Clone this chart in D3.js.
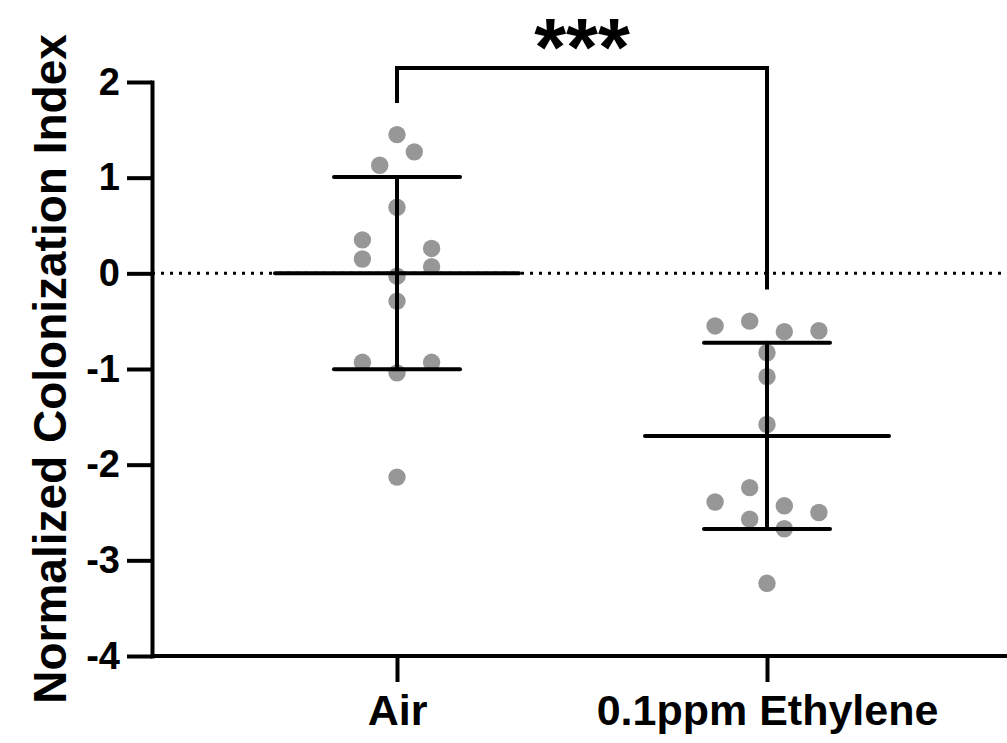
<!DOCTYPE html>
<html>
<head>
<meta charset="utf-8">
<script src="https://cdn.jsdelivr.net/npm/d3@7"></script>
<style>
  html, body { margin: 0; padding: 0; background: #fff; }
  svg { display: block; }
  text { font-family: "Liberation Sans", Arial, sans-serif; font-weight: bold; fill: #000; }
</style>
</head>
<body>
<svg id="chart" width="1007" height="743"></svg>
<script>
// ---- data ----
const categories = ["Air", "0.1ppm Ethylene"];
const airValues = [1.45, 1.27, 1.13, 0.69, 0.35, 0.15, 0.26, 0.07, -0.03, -0.29, -0.93, -0.93, -1.04, -2.13];
const airSlots  = [0, 1, -1, 0, -2, -2, 2, 2, 0, 0, -2, 2, 0, 0];
const ethValues = [-0.55, -0.50, -0.61, -0.60, -0.83, -1.08, -1.58, -2.39, -2.24, -2.43, -2.50, -2.57, -2.67, -3.24];
const ethSlots  = [-3, -1, 1, 3, 0, 0, 0, -3, -1, 1, 3, -1, 1, 0];
const yTicks = [-4, -3, -2, -1, 0, 1, 2];
const yLabel = "Normalized Colonization Index";
const significance = "***";

const groups = [
  { name: categories[0], values: airValues, slots: airSlots },
  { name: categories[1], values: ethValues, slots: ethSlots }
];

// ---- layout ----
const W = 1007, H = 743;
const axisX = 152, axisY = 656, topY = 82;
const svg = d3.select("#chart");

const y = d3.scaleLinear().domain([-4, 2]).range([axisY, topY]);
const x = d3.scalePoint().domain(categories).range([397, 767]);
const jitter = d3.scaleLinear().domain([-1, 1]).range([-17.3, 17.3]);
const r = 8.7;
const lw = 4;

// dotted zero line
svg.append("line")
  .attr("x1", axisX).attr("x2", W)
  .attr("y1", y(0)).attr("y2", y(0))
  .attr("stroke", "#000").attr("stroke-width", 3)
  .attr("stroke-dasharray", "3,6");

// points
groups.forEach(g => {
  svg.append("g").selectAll("circle")
    .data(g.values.map((v, i) => ({ v, s: g.slots[i] })))
    .join("circle")
    .attr("cx", d => x(g.name) + jitter(d.s))
    .attr("cy", d => y(d.v))
    .attr("r", r)
    .attr("fill", "#979797");
});

// mean +/- SD
const meanHalf = 122, capHalf = 63;
groups.forEach(g => {
  const m = d3.mean(g.values), sd = d3.deviation(g.values);
  const cx = x(g.name);
  const eg = svg.append("g").attr("stroke", "#000").attr("stroke-width", lw).attr("stroke-linecap", "round");
  eg.append("line").attr("x1", cx).attr("x2", cx).attr("y1", y(m + sd)).attr("y2", y(m - sd));
  eg.append("line").attr("x1", cx - meanHalf).attr("x2", cx + meanHalf).attr("y1", y(m)).attr("y2", y(m));
  eg.append("line").attr("x1", cx - capHalf).attr("x2", cx + capHalf).attr("y1", y(m + sd)).attr("y2", y(m + sd));
  eg.append("line").attr("x1", cx - capHalf).attr("x2", cx + capHalf).attr("y1", y(m - sd)).attr("y2", y(m - sd));
});

// y axis
const yAxis = svg.append("g")
  .attr("transform", `translate(${axisX},0)`)
  .call(d3.axisLeft(y).tickValues(yTicks).tickSize(25).tickSizeOuter(0).tickPadding(7).tickFormat(d3.format("d")));
yAxis.select(".domain").attr("stroke-width", lw).attr("stroke-linecap", "square");
yAxis.selectAll(".tick line").attr("stroke-width", lw);
yAxis.selectAll(".tick text")
  .attr("font-size", 38).attr("font-family", "Liberation Sans, Arial, sans-serif")
  .attr("font-weight", "bold").attr("fill", "#000")
  .text(d => d < 0 ? "-" + Math.abs(d) : d);

// x axis
svg.append("line")
  .attr("x1", axisX).attr("x2", W).attr("y1", axisY).attr("y2", axisY)
  .attr("stroke", "#000").attr("stroke-width", lw);
const xAxis = svg.append("g")
  .attr("transform", `translate(0,${axisY})`)
  .call(d3.axisBottom(x).tickSize(26).tickSizeOuter(0).tickPadding(12));
xAxis.select(".domain").remove();
xAxis.selectAll(".tick line").attr("stroke-width", lw);
xAxis.selectAll(".tick text")
  .attr("font-size", 43).attr("font-family", "Liberation Sans, Arial, sans-serif")
  .attr("font-weight", "bold").attr("fill", "#000");

// y label
svg.append("text")
  .attr("transform", `translate(66,${(topY + axisY) / 2 + 0}) rotate(-90)`)
  .attr("text-anchor", "middle")
  .attr("font-size", 46)
  .text(yLabel);

// significance bracket
const gap = 23;
const leftEnd = y(d3.max(airValues)) - r - gap;
const rightEnd = y(d3.max(ethValues)) - r - gap;
const by = 68;
const bx1 = x(categories[0]), bx2 = x(categories[1]);
svg.append("path")
  .attr("d", d3.line()([[bx1, leftEnd], [bx1, by], [bx2, by], [bx2, rightEnd]]))
  .attr("fill", "none").attr("stroke", "#000").attr("stroke-width", lw)
  .attr("stroke-linejoin", "miter");
svg.append("text")
  .attr("x", (bx1 + bx2) / 2).attr("y", 75)
  .attr("text-anchor", "middle")
  .attr("font-size", 82)
  .text(significance);
</script>
</body>
</html>
